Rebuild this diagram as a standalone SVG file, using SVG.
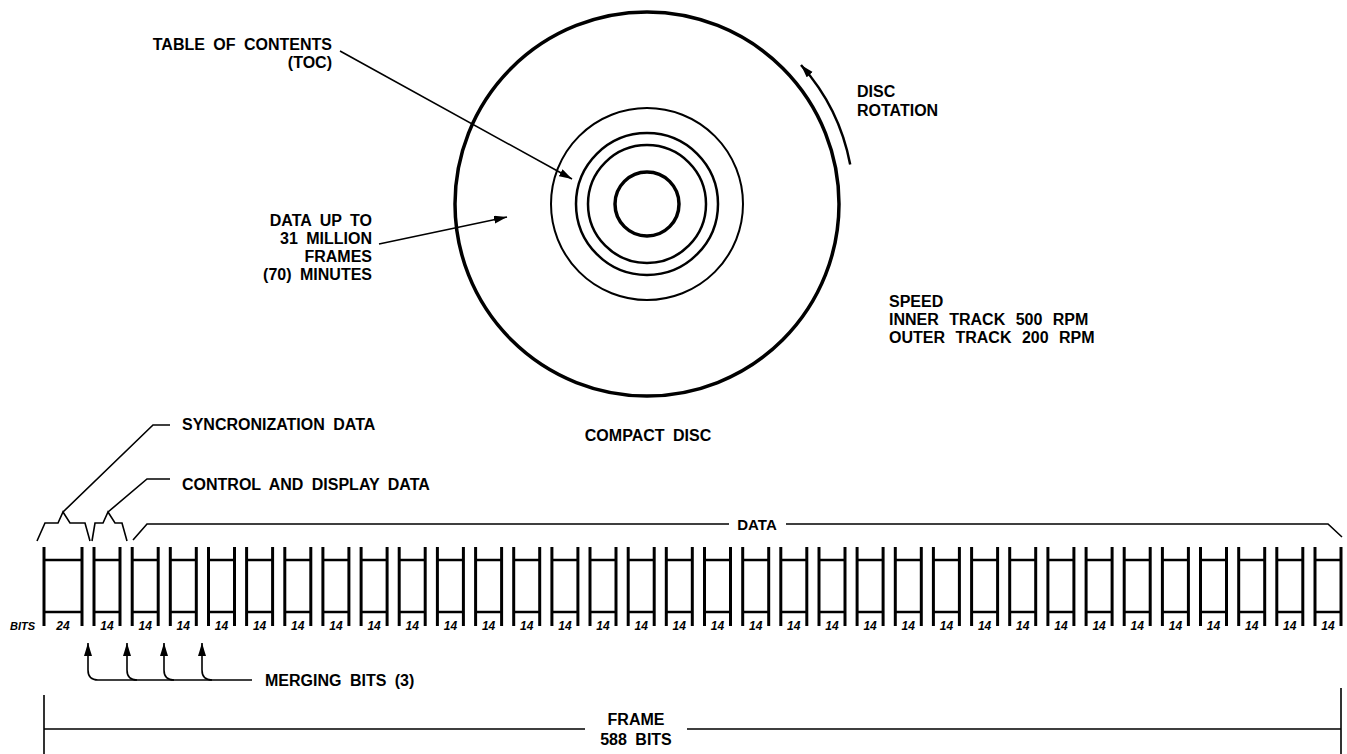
<svg xmlns="http://www.w3.org/2000/svg" xmlns:xlink="http://www.w3.org/1999/xlink" width="1347" height="754" viewBox="0 0 1347 754">
<style>
.t{font-family:"Liberation Sans",Arial,sans-serif;font-weight:bold;font-size:16px;word-spacing:4px;fill:#000}
.n{font-family:"Liberation Sans",Arial,sans-serif;font-weight:bold;font-style:italic;font-size:12px;fill:#000}
.ln{fill:none;stroke:#000;stroke-width:1.6}
.cv{stroke:#000;stroke-width:3}
.ch{stroke:#000;stroke-width:2.5}
</style>
<defs>
<marker id="ah" markerUnits="userSpaceOnUse" markerWidth="14" markerHeight="9" refX="13" refY="4" orient="auto">
<path d="M0,0 L13,4 L0,8 z" fill="#000"/>
</marker>
<g id="cell">
<line class="cv" x1="0" y1="547" x2="0" y2="626"/>
<line class="cv" x1="26" y1="547" x2="26" y2="626"/>
<line class="ch" x1="0" y1="560" x2="26" y2="560"/>
<line class="ch" x1="0" y1="612" x2="26" y2="612"/>
<text class="n" x="13" y="630" text-anchor="middle">14</text>
</g>
</defs>
<rect width="1347" height="754" fill="#fff"/>

<g id="disc">
<circle cx="647" cy="204" r="192" fill="none" stroke="#000" stroke-width="3.5"/>
<circle cx="647" cy="204" r="96" fill="none" stroke="#000" stroke-width="2"/>
<circle cx="647" cy="204" r="71" fill="none" stroke="#000" stroke-width="2.5"/>
<circle cx="647" cy="204" r="59" fill="none" stroke="#000" stroke-width="2.5"/>
<circle cx="647" cy="204" r="32" fill="none" stroke="#000" stroke-width="3.5"/>
</g>

<g id="labels">
<text class="t" x="332" y="50" text-anchor="end">TABLE OF CONTENTS</text>
<text class="t" x="332" y="68" text-anchor="end">(TOC)</text>
<text class="t" x="372" y="226" text-anchor="end">DATA UP TO</text>
<text class="t" x="372" y="244" text-anchor="end">31 MILLION</text>
<text class="t" x="372" y="262" text-anchor="end">FRAMES</text>
<text class="t" x="372" y="280" text-anchor="end">(70) MINUTES</text>
<text class="t" x="857" y="97">DISC</text>
<text class="t" x="857" y="116">ROTATION</text>
<text class="t" x="889" y="307">SPEED</text>
<text class="t" x="889" y="325" style="word-spacing:6px">INNER TRACK 500 RPM</text>
<text class="t" x="889" y="343" style="word-spacing:6px">OUTER TRACK 200 RPM</text>
<text class="t" x="648" y="441" text-anchor="middle">COMPACT DISC</text>
<text class="t" x="182" y="430">SYNCRONIZATION DATA</text>
<text class="t" x="182" y="490">CONTROL AND DISPLAY DATA</text>
<text class="t" x="757" y="530" text-anchor="middle" style="font-size:15px">DATA</text>
<text class="t" x="265" y="686">MERGING BITS (3)</text>
<text class="t" x="636" y="725" text-anchor="middle">FRAME</text>
<text class="t" x="636" y="745" text-anchor="middle">588 BITS</text>
<text class="n" x="10" y="630" style="font-size:11px">BITS</text>
<text class="n" x="63" y="630" text-anchor="middle">24</text>
</g>

<g id="connectors">
<line class="ln" x1="340" y1="51" x2="572" y2="179" marker-end="url(#ah)"/>
<line class="ln" x1="379" y1="244" x2="507" y2="217" marker-end="url(#ah)"/>
<path d="M850.2,164.5 A207,207 0 0 0 801,65" fill="none" stroke="#000" stroke-width="2.5" marker-end="url(#ah)"/>
<path class="ln" d="M170,425 H153 L63,512"/>
<path class="ln" d="M170,479 H147 L108,512"/>
<path class="ln" d="M37,541 L45,523 H58 L63,512 L70,523 H85 L90,541"/>
<path class="ln" d="M92,541 L95,523 H103 L108,512 L115,523 H122 L127,541"/>
<path class="ln" d="M133,540 L147,524 H729 M786,524 H1328 L1342,537"/>
<path class="ln" d="M98,680 Q88,680 88,670 V643" marker-end="url(#ah)"/>
<path class="ln" d="M137,680 Q127,680 127,670 V643" marker-end="url(#ah)"/>
<path class="ln" d="M174,680 Q164,680 164,670 V643" marker-end="url(#ah)"/>
<path class="ln" d="M212,680 Q202,680 202,670 V643" marker-end="url(#ah)"/>
<path class="ln" d="M98,680 H252"/>
<path class="ln" d="M44,695 V754 M1341,688 V754 M44,729 H585 M687,729 H1341"/>
</g>

<g id="frame-cells">
<g id="sync-cell">
<line class="cv" x1="44" y1="547" x2="44" y2="626"/>
<line class="cv" x1="82" y1="547" x2="82" y2="626"/>
<line class="ch" x1="44" y1="560" x2="82" y2="560"/>
<line class="ch" x1="44" y1="612" x2="82" y2="612"/>
</g>
<use id="c0" xlink:href="#cell" x="94"/>
<use id="c1" xlink:href="#cell" x="132.2"/>
<use id="c2" xlink:href="#cell" x="170.3"/>
<use id="c3" xlink:href="#cell" x="208.5"/>
<use id="c4" xlink:href="#cell" x="246.6"/>
<use id="c5" xlink:href="#cell" x="284.8"/>
<use id="c6" xlink:href="#cell" x="322.9"/>
<use id="c7" xlink:href="#cell" x="361.1"/>
<use id="c8" xlink:href="#cell" x="399.2"/>
<use id="c9" xlink:href="#cell" x="437.4"/>
<use id="c10" xlink:href="#cell" x="475.6"/>
<use id="c11" xlink:href="#cell" x="513.7"/>
<use id="c12" xlink:href="#cell" x="551.9"/>
<use id="c13" xlink:href="#cell" x="590"/>
<use id="c14" xlink:href="#cell" x="628.2"/>
<use id="c15" xlink:href="#cell" x="666.3"/>
<use id="c16" xlink:href="#cell" x="704.5"/>
<use id="c17" xlink:href="#cell" x="742.7"/>
<use id="c18" xlink:href="#cell" x="780.8"/>
<use id="c19" xlink:href="#cell" x="819"/>
<use id="c20" xlink:href="#cell" x="857.1"/>
<use id="c21" xlink:href="#cell" x="895.3"/>
<use id="c22" xlink:href="#cell" x="933.4"/>
<use id="c23" xlink:href="#cell" x="971.6"/>
<use id="c24" xlink:href="#cell" x="1009.7"/>
<use id="c25" xlink:href="#cell" x="1047.9"/>
<use id="c26" xlink:href="#cell" x="1086.1"/>
<use id="c27" xlink:href="#cell" x="1124.2"/>
<use id="c28" xlink:href="#cell" x="1162.4"/>
<use id="c29" xlink:href="#cell" x="1200.5"/>
<use id="c30" xlink:href="#cell" x="1238.7"/>
<use id="c31" xlink:href="#cell" x="1276.8"/>
<use id="c32" xlink:href="#cell" x="1315"/>
</g>
</svg>
